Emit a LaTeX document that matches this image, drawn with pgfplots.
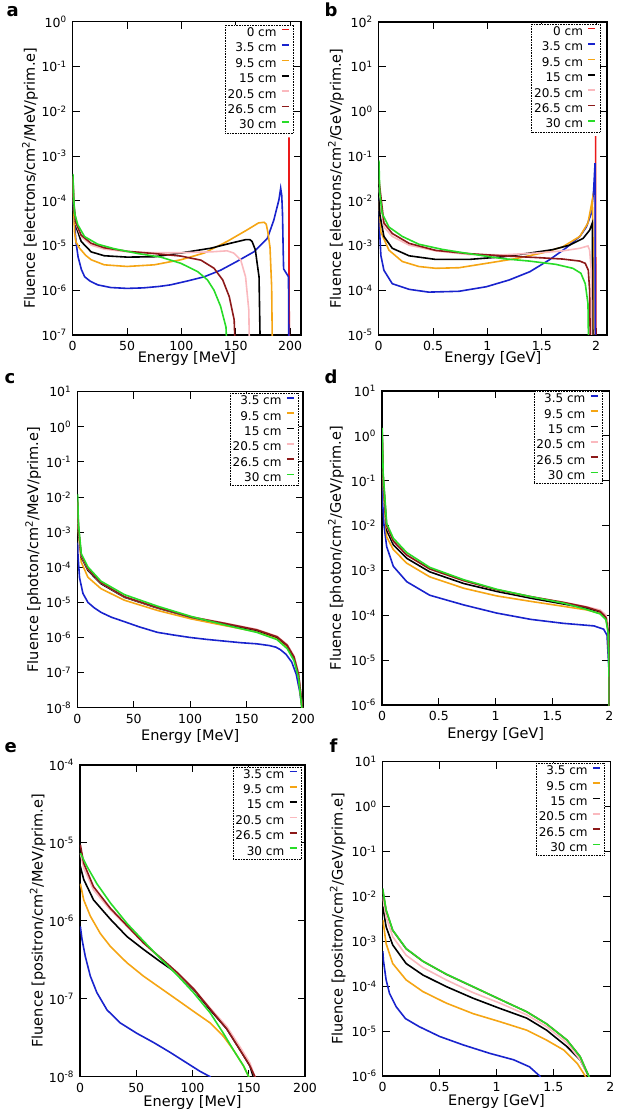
\documentclass[border=0pt]{standalone}
\usepackage{fontspec}
\setmainfont{DejaVu Sans}
\usepackage{pgfplots}
\pgfplotsset{compat=1.18}

\definecolor{cRed}{RGB}{235,25,25}
\definecolor{cBlue}{RGB}{25,35,205}
\definecolor{cOrange}{RGB}{245,165,20}
\definecolor{cPink}{RGB}{250,185,190}
\definecolor{cBrown}{RGB}{140,25,25}
\definecolor{cGreen}{RGB}{40,220,40}

\pgfplotsset{
  every axis/.append style={
  scale only axis,
  xmin=0,
  tick align=inside,
  major tick length=7pt, minor tick length=3.5pt,
  tick style={black, line width=0.9pt},
  minor tick style={line width=0.6pt},
  axis line style={line width=1.3pt},
  ticklabel style={font=\fontsize{12.5}{14}\selectfont},
  xticklabel style={yshift=-2.5pt},
  yticklabel style={xshift=-2.5pt},
  legend plot pos=right,
  legend cell align=right,
  legend style={draw=black, densely dotted, line width=0.6pt, font=\fontsize{12}{14}\selectfont, inner sep=1pt, row sep=2pt, column sep=3pt, nodes={inner sep=1.5pt}, anchor=north east},
 },
 every axis label/.append style={font=\fontsize{14.5}{17}\selectfont},
 every axis plot post/.append style={line width=1.6pt, no markers,
   legend image code/.code={\draw[##1,solid,line width=1.6pt] (0pt,0.32em) -- (7pt,0.32em); \path (0pt,0pt) (10pt,0pt);}},
 yticklabel={10\textsuperscript{\pgfmathparse{int(round(\tick))}\pgfmathresult}},
}

\begin{document}
\begin{tikzpicture}
\path[use as bounding box] (0pt,0pt) rectangle (616pt,-1116pt);

\node[anchor=base west, font=\fontsize{18}{18}\selectfont\bfseries] at (3pt,-17pt) {a};
\node[anchor=base west, font=\fontsize{18}{18}\selectfont\bfseries] at (321pt,-17pt) {b};
\node[anchor=base west, font=\fontsize{18}{18}\selectfont\bfseries] at (1pt,-383pt) {c};
\node[anchor=base west, font=\fontsize{18}{18}\selectfont\bfseries] at (321pt,-383pt) {d};
\node[anchor=base west, font=\fontsize{18}{18}\selectfont\bfseries] at (1pt,-752pt) {e};
\node[anchor=base west, font=\fontsize{18}{18}\selectfont\bfseries] at (326pt,-752pt) {f};

% ---------------- a ----------------
\begin{axis}[ymode=log, log basis y=10, at={(72.7pt,-21.7pt)}, anchor=north west, width=228.3pt, height=313.3pt,
  xmax=210, ymin=1e-7, ymax=1, ytickten={-7,...,0},
  xtick={0,50,100,150,200}, xticklabels={0,50,100,150,200},
  xlabel={Energy [MeV]}, ylabel={Fluence [electrons/cm\textsuperscript{2}/MeV/prim.e]},
  xlabel style={at={(axis description cs:0.5,-0.075)}, anchor=center},
  ylabel style={at={(axis description cs:-0.187,0.5)}, anchor=center},
  legend style={at={(axis description cs:0.969,0.99)}}]
\addplot[cRed] coordinates {(198.8,1e-8) (199,2.6e-3) (199.2,1e-8)};
\addlegendentry{0 cm}
\addplot[cBlue] coordinates {(0.2,1.2e-4) (1,6e-5) (2,2.5e-5) (3,1.2e-5) (5,5.5e-6) (8,2.9e-6) (11,2.0e-6) (16,1.6e-6) (23,1.32e-6) (35,1.15e-6) (50,1.1e-6) (65,1.13e-6) (80,1.22e-6) (90,1.32e-6) (105,1.6e-6) (121,2.0e-6) (136,2.8e-6) (151,4.4e-6) (167,7.3e-6) (179,1.43e-5) (185,3.7e-5) (189.7,1.05e-4) (191.3,1.9e-4) (192.3,1.3e-4) (193,5e-5) (193.6,8e-6) (194,3e-6) (198.5,2.0e-6) (198.9,1e-8)};
\addlegendentry{3.5 cm}
\addplot[cOrange] coordinates {(0.2,3e-4) (1,6e-5) (1.7,2.0e-5) (3,1.2e-5) (6.3,8.7e-6) (12,6e-6) (17,4.8e-6) (29,3.7e-6) (50,3.4e-6) (75,3.7e-6) (99.5,4.8e-6) (121,6.8e-6) (142,1.23e-5) (160,2.2e-5) (171,3.2e-5) (176,3.3e-5) (178,3.0e-5) (179.5,2.0e-5) (181.5,9e-6) (183,1.2e-6) (184,1e-8)};
\addlegendentry{9.5 cm}
\addplot[black] coordinates {(0.2,3e-4) (1,7e-5) (3.2,2.6e-5) (7.8,1.23e-5) (17,7.2e-6) (29,5.9e-6) (50,5.5e-6) (75,5.6e-6) (99.5,6.8e-6) (127,8.7e-6) (145,1.12e-5) (159,1.35e-5) (163,1.35e-5) (165,1.23e-5) (168,8e-6) (170,3.5e-6) (171.4,2e-6) (173,1e-8)};
\addlegendentry{15 cm}
\addplot[cPink] coordinates {(0.2,3.5e-4) (1,8e-5) (3,3e-5) (7.8,1.58e-5) (17,1.02e-5) (29,8.3e-6) (50.6,7.2e-6) (75,6.9e-6) (99.5,6.9e-6) (127,7.2e-6) (142,7.6e-6) (148,6.8e-6) (154.5,4.8e-6) (159,2.0e-6) (162,3.6e-7) (163,1e-8)};
\addlegendentry{20.5 cm}
\addplot[cBrown] coordinates {(0.2,3.5e-4) (1,8.5e-5) (3,3.2e-5) (7.8,1.7e-5) (17,1.12e-5) (29,8.9e-6) (50.6,7.4e-6) (75,6.6e-6) (99.5,5.8e-6) (118,4.7e-6) (130,3.1e-6) (138,1.7e-6) (144,7.2e-7) (148.5,2.2e-7) (150.6,1e-8)};
\addlegendentry{26.5 cm}
\addplot[cGreen] coordinates {(0.2,4e-4) (1,1e-4) (2,5e-5) (4.7,2.9e-5) (10.9,1.58e-5) (23,1.07e-5) (38,8.5e-6) (60,6.6e-6) (81,5.5e-6) (99.5,4e-6) (115,2.6e-6) (124,1.7e-6) (130,1.0e-6) (136,4.4e-7) (141,1.5e-7) (143,1e-8)};
\addlegendentry{30 cm}
\end{axis}

% ---------------- b ----------------
\begin{axis}[ymode=log, log basis y=10, at={(378.7pt,-22pt)}, anchor=north west, width=228.3pt, height=313pt,
  xmax=2.1, ymin=1e-5, ymax=1e2, ytickten={-5,...,2},
  xtick={0,0.5,1,1.5,2}, xticklabels={0,0.5,1,1.5,2},
  xlabel={Energy [GeV]}, ylabel={Fluence [electrons/cm\textsuperscript{2}/GeV/prim.e]},
  xlabel style={at={(axis description cs:0.5,-0.075)}, anchor=center},
  ylabel style={at={(axis description cs:-0.187,0.5)}, anchor=center},
  legend style={at={(axis description cs:0.971,0.994)}}]
\addplot[cRed] coordinates {(1.993,1e-6) (1.995,0.28) (1.997,1e-6)};
\addlegendentry{0 cm}
\addplot[cBlue] coordinates {(0.002,1.2e-2) (0.008,2.2e-3) (0.02,6e-4) (0.048,2.8e-4) (0.125,1.4e-4) (0.28,1.05e-4) (0.46,9.1e-5) (0.74,9.5e-5) (0.99,1.2e-4) (1.2,1.7e-4) (1.39,2.6e-4) (1.57,4.8e-4) (1.72,8.7e-4) (1.85,1.6e-3) (1.91,2.6e-3) (1.955,5.2e-3) (1.977,1.7e-2) (1.99,7e-2) (1.993,1e-6)};
\addlegendentry{3.5 cm}
\addplot[cOrange] coordinates {(0.002,1e-2) (0.02,2e-3) (0.094,7.9e-4) (0.217,4.4e-4) (0.37,3.4e-4) (0.525,3.1e-4) (0.74,3.2e-4) (0.99,4.0e-4) (1.26,5.1e-4) (1.51,6.9e-4) (1.69,9.3e-4) (1.85,1.6e-3) (1.925,3.2e-3) (1.965,1.05e-2) (1.972,1e-3) (1.975,1e-6)};
\addlegendentry{9.5 cm}
\addplot[black] coordinates {(0.002,1.2e-2) (0.01,5e-3) (0.048,1.6e-3) (0.125,8.7e-4) (0.28,5.9e-4) (0.525,4.9e-4) (0.83,4.9e-4) (1.14,5.6e-4) (1.39,6.8e-4) (1.6,8.1e-4) (1.755,1.02e-3) (1.88,1.45e-3) (1.94,2.2e-3) (1.965,3.2e-3) (1.97,1e-6)};
\addlegendentry{15 cm}
\addplot[cPink] coordinates {(0.002,2e-2) (0.048,2.6e-3) (0.125,1.6e-3) (0.28,1.02e-3) (0.525,7.6e-4) (0.83,6.3e-4) (1.14,6.2e-4) (1.45,6.8e-4) (1.69,7.6e-4) (1.85,8.7e-4) (1.925,9.8e-4) (1.94,7.9e-4) (1.955,2.8e-4) (1.962,1e-6)};
\addlegendentry{20.5 cm}
\addplot[cBrown] coordinates {(0.002,3e-2) (0.048,3.2e-3) (0.125,1.86e-3) (0.28,1.12e-3) (0.525,7.8e-4) (0.83,6.6e-4) (1.14,5.9e-4) (1.45,5.4e-4) (1.69,5.0e-4) (1.85,4.5e-4) (1.90,4.0e-4) (1.928,2.8e-4) (1.94,1e-4) (1.95,1e-6)};
\addlegendentry{26.5 cm}
\addplot[cGreen] coordinates {(0.002,8e-2) (0.01,1.5e-2) (0.032,5.2e-3) (0.094,2.6e-3) (0.217,1.6e-3) (0.37,1.07e-3) (0.586,8.2e-4) (0.83,6.6e-4) (1.14,5.1e-4) (1.385,4.5e-4) (1.63,3.8e-4) (1.786,3.1e-4) (1.86,2.4e-4) (1.90,1.4e-4) (1.925,5e-5) (1.934,1e-6)};
\addlegendentry{30 cm}
\end{axis}

% ---------------- c ----------------
\begin{axis}[ymode=log, log basis y=10, at={(77.3pt,-391.7pt)}, anchor=north west, width=225.7pt, height=316pt,
  xmax=200, ymin=1e-8, ymax=10, ytickten={-8,...,1},
  xtick={0,50,100,150,200}, xticklabels={0,50,100,150,200},
  xlabel={Energy [MeV]}, ylabel={Fluence [photon/cm\textsuperscript{2}/MeV/prim.e]},
  xlabel style={at={(axis description cs:0.5,-0.09)}, anchor=center},
  ylabel style={at={(axis description cs:-0.195,0.5)}, anchor=center},
  legend style={at={(axis description cs:0.982,0.996)}}]
\addplot[cBlue] coordinates {(0.3,5e-4) (0.6,2.2e-4) (2,5e-5) (5,1.8e-5) (9.4,1.0e-5) (15,7e-6) (21,5.2e-6) (30,3.8e-6) (42,2.8e-6) (55,2.0e-6) (71,1.4e-6) (85,1.18e-6) (100,1.0e-6) (115,8.8e-7) (130,7.9e-7) (145,7.1e-7) (159,6.6e-7) (170,5.9e-7) (176,5.3e-7) (180,4.5e-7) (185,3.3e-7) (190,2.0e-7) (194,9e-8) (197,3e-8) (199.5,8e-9)};
\addlegendentry{3.5 cm}
\addplot[cOrange] coordinates {(0.3,5e-3) (1,1e-3) (3.5,1.4e-4) (9.4,5.2e-5) (21,2.45e-5) (41.8,1.15e-5) (71,5.9e-6) (100.6,3.4e-6) (130,2.2e-6) (159,1.45e-6) (177,9.5e-7) (186,5.5e-7) (192,2.5e-7) (196,8e-8) (199,1e-8) (199.5,5e-9)};
\addlegendentry{9.5 cm}
\addplot[black] coordinates {(0.3,6e-3) (1,1.2e-3) (3.5,1.95e-4) (9.4,8.1e-5) (21,3.4e-5) (41.8,1.4e-5) (71,6.9e-6) (100.6,3.8e-6) (130,2.45e-6) (159,1.6e-6) (177,1.02e-6) (186,5.9e-7) (192,2.75e-7) (196,9e-8) (199.4,1e-8) (200,5e-9)};
\addlegendentry{15 cm}
\addplot[cPink] coordinates {(0.3,7e-3) (1,1.3e-3) (3.5,2.1e-4) (9.4,8.8e-5) (21,3.6e-5) (41.8,1.45e-5) (71,7.1e-6) (100.6,3.9e-6) (130,2.6e-6) (159,1.7e-6) (177,1.08e-6) (186,6.3e-7) (192,3e-7) (196,1e-7) (199.4,1e-8) (200,5e-9)};
\addlegendentry{20.5 cm}
\addplot[cBrown] coordinates {(0.3,8e-3) (1,1.4e-3) (3.5,2.2e-4) (9.4,9e-5) (21,3.6e-5) (41.8,1.45e-5) (71,7.1e-6) (100.6,3.85e-6) (130,2.55e-6) (159,1.65e-6) (177,1.05e-6) (186,6e-7) (192,2.8e-7) (196,9e-8) (199.4,1e-8) (200,5e-9)};
\addlegendentry{26.5 cm}
\addplot[cGreen] coordinates {(0.3,1.2e-2) (1,1.8e-3) (3.5,2.45e-4) (9.4,1.02e-4) (21,4e-5) (41.8,1.66e-5) (71,7.8e-6) (100.6,4e-6) (130,2.3e-6) (159,1.4e-6) (177,8.7e-7) (186,4.8e-7) (192,2.2e-7) (196,7.2e-8) (199,1e-8) (199.5,5e-9)};
\addlegendentry{30 cm}
\end{axis}

% ---------------- d ----------------
\begin{axis}[ymode=log, log basis y=10, at={(382pt,-391pt)}, anchor=north west, width=227.3pt, height=314pt,
  xmax=2, ymin=1e-6, ymax=10, ytickten={-6,...,1},
  xtick={0,0.5,1,1.5,2}, xticklabels={0,0.5,1,1.5,2},
  xlabel={Energy [GeV]}, ylabel={Fluence [photon/cm\textsuperscript{2}/GeV/prim.e]},
  xlabel style={at={(axis description cs:0.5,-0.095)}, anchor=center},
  ylabel style={at={(axis description cs:-0.202,0.5)}, anchor=center},
  legend style={at={(axis description cs:0.971,1.0)}}]
\addplot[cBlue] coordinates {(0.002,0.1) (0.006,3.2e-2) (0.018,1e-2) (0.041,3.4e-3) (0.1,1.23e-3) (0.218,5.6e-4) (0.42,2.8e-4) (0.72,1.7e-4) (1.01,1.12e-4) (1.31,8.1e-5) (1.6,6.6e-5) (1.865,5.8e-5) (1.95,4.9e-5) (1.98,3.6e-5) (1.997,6e-6) (2.0,1e-7)};
\addlegendentry{3.5 cm}
\addplot[cOrange] coordinates {(0.002,0.5) (0.01,8e-2) (0.041,5.6e-3) (0.1,2.9e-3) (0.218,1.45e-3) (0.42,7.2e-4) (0.72,4e-4) (1.01,2.7e-4) (1.31,2.04e-4) (1.6,1.58e-4) (1.8,1.32e-4) (1.92,1.1e-4) (1.97,8.5e-5) (1.99,4.7e-5) (1.998,6e-6) (2.0,1e-7)};
\addlegendentry{9.5 cm}
\addplot[black] coordinates {(0.002,0.8) (0.01,0.1) (0.041,7.9e-3) (0.1,3.7e-3) (0.218,1.86e-3) (0.42,9.3e-4) (0.72,5.1e-4) (1.01,3.4e-4) (1.31,2.4e-4) (1.6,1.78e-4) (1.8,1.45e-4) (1.92,1.2e-4) (1.97,9.3e-5) (1.99,5.5e-5) (1.998,1.2e-5) (2.0,1e-7)};
\addlegendentry{15 cm}
\addplot[cPink] coordinates {(0.002,1.0) (0.01,0.12) (0.041,9.5e-3) (0.1,4.4e-3) (0.218,2.2e-3) (0.42,1.07e-3) (0.72,5.9e-4) (1.01,3.7e-4) (1.31,2.6e-4) (1.6,1.95e-4) (1.8,1.55e-4) (1.92,1.31e-4) (1.97,1.02e-4) (1.99,6e-5) (1.998,1.5e-5) (2.0,1e-7)};
\addlegendentry{20.5 cm}
\addplot[cBrown] coordinates {(0.002,1.2) (0.01,0.13) (0.041,1.0e-2) (0.1,4.5e-3) (0.218,2.2e-3) (0.42,1.08e-3) (0.72,5.9e-4) (1.01,3.7e-4) (1.31,2.6e-4) (1.6,1.93e-4) (1.8,1.52e-4) (1.92,1.22e-4) (1.97,9e-5) (1.99,4.5e-5) (1.998,8e-6) (2.0,1e-7)};
\addlegendentry{26.5 cm}
\addplot[cGreen] coordinates {(0.002,1.5) (0.01,0.15) (0.041,1.12e-2) (0.1,5.2e-3) (0.218,2.5e-3) (0.42,1.17e-3) (0.72,6.2e-4) (1.01,3.8e-4) (1.31,2.6e-4) (1.6,1.86e-4) (1.8,1.35e-4) (1.92,1.07e-4) (1.97,8e-5) (1.99,4e-5) (1.998,4e-6) (2.0,1e-7)};
\addlegendentry{30 cm}
\end{axis}

% ---------------- e ----------------
\begin{axis}[ymode=log, log basis y=10, at={(80pt,-765pt)}, anchor=north west, width=225pt, height=311.7pt,
  xmax=200, ymin=1e-8, ymax=1e-4, ytickten={-8,...,-4},
  xtick={0,50,100,150,200}, xticklabels={0,50,100,150,200},
  xlabel={Energy [MeV]}, ylabel={Fluence [positron/cm\textsuperscript{2}/MeV/prim.e]},
  xlabel style={at={(axis description cs:0.5,-0.082)}, anchor=center},
  ylabel style={at={(axis description cs:-0.188,0.5)}, anchor=center},
  legend style={at={(axis description cs:0.985,0.995)}}]
\addplot[cBlue] coordinates {(0.3,8.5e-7) (1.8,5.8e-7) (4.7,3.5e-7) (9.2,1.95e-7) (15,1.2e-7) (24,7.2e-8) (35.8,4.9e-8) (50.6,3.6e-8) (65.4,2.75e-8) (80.2,2.05e-8) (95,1.5e-8) (106.8,1.17e-8) (115.7,1.0e-8) (118,9e-9)};
\addlegendentry{3.5 cm}
\addplot[cOrange] coordinates {(0.3,3e-6) (3.3,1.86e-6) (9.2,1.15e-6) (18,6.9e-7) (27,4.7e-7) (41.7,2.9e-7) (56.5,1.95e-7) (71.3,1.38e-7) (86,9.8e-8) (100.9,6.9e-8) (115.7,4.9e-8) (127.5,3.3e-8) (136.4,2.2e-8) (145.3,1.38e-8) (150,1e-8) (152,8e-9)};
\addlegendentry{9.5 cm}
\addplot[black] coordinates {(0.3,5e-6) (3.3,3.4e-6) (12,1.86e-6) (27,1.05e-6) (41.7,6.3e-7) (56.5,4.3e-7) (71.3,3.0e-7) (86,2.14e-7) (100.9,1.32e-7) (115.7,7.2e-8) (130.5,4.1e-8) (142.3,2.2e-8) (151,1.38e-8) (154,1e-8) (156,8e-9)};
\addlegendentry{15 cm}
\addplot[cPink] coordinates {(0.3,7.4e-6) (3.3,4.8e-6) (12,2.5e-6) (27,1.38e-6) (41.7,8.5e-7) (56.5,5.2e-7) (71.3,3.3e-7) (86,2.14e-7) (100.9,1.35e-7) (115.7,7.6e-8) (130.5,4.4e-8) (142.3,2.4e-8) (151,1.5e-8) (155.5,1e-8) (157,8e-9)};
\addlegendentry{20.5 cm}
\addplot[cBrown] coordinates {(0.3,9.5e-6) (3.3,5.5e-6) (12,2.75e-6) (27,1.45e-6) (41.7,8.7e-7) (56.5,5.2e-7) (71.3,3.4e-7) (86,2.2e-7) (100.9,1.35e-7) (115.7,7.4e-8) (130.5,4.1e-8) (142.3,2.2e-8) (151,1.38e-8) (155.5,1e-8) (157,8e-9)};
\addlegendentry{26.5 cm}
\addplot[cGreen] coordinates {(0.3,7.4e-6) (6.2,5.0e-6) (15,3.0e-6) (27,1.7e-6) (41.7,9.3e-7) (56.5,5.5e-7) (71.3,3.3e-7) (86,2.04e-7) (100.9,1.2e-7) (115.7,6.6e-8) (127.5,3.6e-8) (136.4,2.2e-8) (145.3,1.38e-8) (150,1e-8) (152,8e-9)};
\addlegendentry{30 cm}
\end{axis}

% ---------------- f ----------------
\begin{axis}[ymode=log, log basis y=10, at={(382.7pt,-761.7pt)}, anchor=north west, width=227.6pt, height=314.3pt,
  xmax=2, ymin=1e-6, ymax=10, ytickten={-6,...,1},
  xtick={0,0.5,1,1.5,2}, xticklabels={0,0.5,1,1.5,2},
  xlabel={Energy [GeV]}, ylabel={Fluence [positron/cm\textsuperscript{2}/GeV/prim.e]},
  xlabel style={at={(axis description cs:0.5,-0.082)}, anchor=center},
  ylabel style={at={(axis description cs:-0.198,0.5)}, anchor=center},
  legend style={at={(axis description cs:0.977,0.996)}}]
\addplot[cBlue] coordinates {(0.001,6e-4) (0.006,3.8e-4) (0.03,1.38e-4) (0.06,6.9e-5) (0.118,3.5e-5) (0.2,1.9e-5) (0.32,1.26e-5) (0.5,7.6e-6) (0.71,4.9e-6) (0.94,3.2e-6) (1.15,2.3e-6) (1.29,1.6e-6) (1.38,1e-6) (1.4,8e-7)};
\addlegendentry{3.5 cm}
\addplot[cOrange] coordinates {(0.001,3e-3) (0.006,2.5e-3) (0.03,8.9e-4) (0.088,3.2e-4) (0.206,1.38e-4) (0.353,7.6e-5) (0.559,4.2e-5) (0.794,2.45e-5) (1.03,1.62e-5) (1.265,1.05e-5) (1.44,6.3e-6) (1.59,3.8e-6) (1.71,1.9e-6) (1.78,1e-6) (1.8,8e-7)};
\addlegendentry{9.5 cm}
\addplot[black] coordinates {(0.001,6e-3) (0.006,5e-3) (0.03,2.1e-3) (0.088,8.3e-4) (0.206,3.2e-4) (0.353,1.78e-4) (0.559,9.8e-5) (0.794,5.4e-5) (1.03,3.2e-5) (1.265,1.95e-5) (1.44,1.05e-5) (1.62,4.5e-6) (1.735,2.3e-6) (1.81,1e-6) (1.83,8e-7)};
\addlegendentry{15 cm}
\addplot[cPink] coordinates {(0.001,1e-2) (0.006,8.3e-3) (0.03,3.5e-3) (0.088,1.26e-3) (0.206,4.9e-4) (0.353,2.6e-4) (0.559,1.38e-4) (0.794,7.2e-5) (1.03,4.2e-5) (1.265,2.3e-5) (1.44,1.26e-5) (1.62,5.4e-6) (1.735,2.3e-6) (1.81,1e-6) (1.83,8e-7)};
\addlegendentry{20.5 cm}
\addplot[cBrown] coordinates {(0.001,1.4e-2) (0.006,1.15e-2) (0.03,4.9e-3) (0.088,1.75e-3) (0.206,6.8e-4) (0.353,3.6e-4) (0.559,1.84e-4) (0.794,9.7e-5) (1.03,5.1e-5) (1.265,2.7e-5) (1.44,1.45e-5) (1.62,6.3e-6) (1.735,2.7e-6) (1.81,1e-6) (1.83,8e-7)};
\addlegendentry{26.5 cm}
\addplot[cGreen] coordinates {(0.001,1.5e-2) (0.006,1.17e-2) (0.03,5e-3) (0.088,1.78e-3) (0.206,6.9e-4) (0.353,3.6e-4) (0.559,1.86e-4) (0.794,9.8e-5) (1.03,5.1e-5) (1.265,2.7e-5) (1.44,1.45e-5) (1.62,6.3e-6) (1.735,2.7e-6) (1.81,1e-6) (1.83,8e-7)};
\addlegendentry{30 cm}
\end{axis}
\end{tikzpicture}
\end{document}
